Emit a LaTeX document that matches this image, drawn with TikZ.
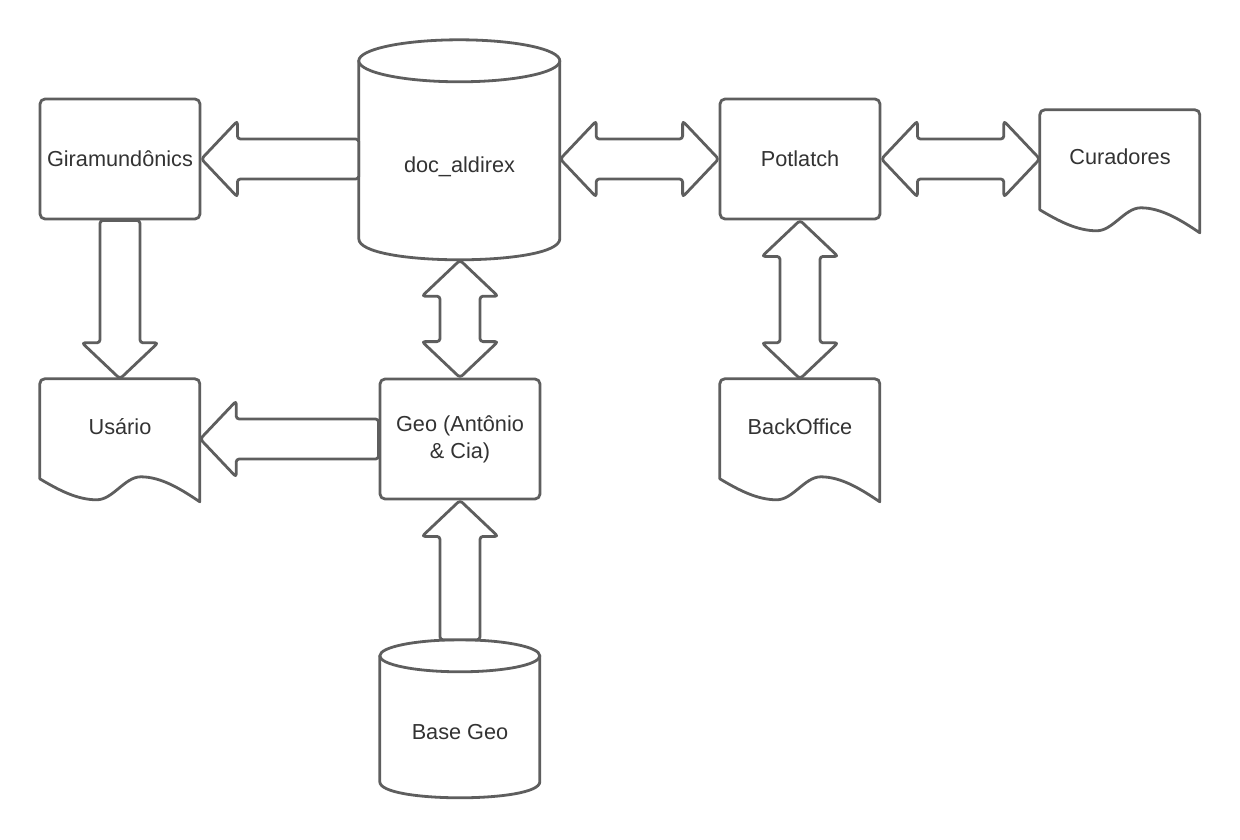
\documentclass[tikz,border=0pt]{standalone}
\usepackage{fontspec}
\setmainfont{Liberation Sans}
\usetikzlibrary{calc}

\definecolor{edge}{HTML}{5E5E5E}
\definecolor{ink}{HTML}{333333}

% outline of a document sheet with a wavy bottom edge, fitted to node #1 (160 x 123)
\newcommand\sheetoutline[1]{%
  \begin{scope}[shift={(#1.north west)}]
    \draw[line] (0,50) -- (0,5) .. controls (0,2) and (2,0) .. (5,0)
      -- (155,0) .. controls (158,0) and (160,2) .. (160,5)
      -- (160,123) .. controls (142,111) and (122,98) .. (101,98)
      .. controls (85,98) and (73,121) .. (57,121)
      .. controls (38,121) and (20,112) .. (0,100) -- cycle;
  \end{scope}}

% outline of a database drum fitted to node #1: width #2, height #3, cap radius #4
\newcommand\drumoutline[4]{%
  \begin{scope}[shift={(#1.north west)}]
    \draw[line] (0,#4) -- (0,{#3-#4})
      .. controls (0,{#3+#4/3}) and (#2,{#3+#4/3}) .. (#2,{#3-#4})
      -- (#2,#4) -- cycle;
    \draw[line] ({#2/2},#4) ellipse [x radius={#2/2}, y radius=#4];
  \end{scope}}

\begin{document}
\begin{tikzpicture}[x=1pt,y=-1pt,
  line/.style={draw=edge, line width=2.8pt, line join=round, fill=white},
  lbl/.style={font=\fontsize{21.7}{27}\selectfont, text=ink, align=center},
  proc/.style={line, lbl, rounded corners=5pt, minimum width=160pt,
    minimum height=120pt, inner sep=0pt},
  sheet/.style={minimum width=160pt, minimum height=123pt, inner sep=0pt},
  drum/.style={inner sep=0pt},
  blockarrow/.style={line, rounded corners=3pt, to path={
    ($(\tikztotarget)!36pt!(\tikztostart)$) coordinate (ah)
    ($(\tikztostart)!20pt!90:(\tikztotarget)$)
    -- ($(ah)!20pt!90:(\tikztotarget)$)
    -- ($(ah)!38pt!90:(\tikztotarget)$)
    -- (\tikztotarget)
    -- ($(ah)!38pt!-90:(\tikztotarget)$)
    -- ($(ah)!20pt!-90:(\tikztotarget)$)
    -- ($(\tikztostart)!20pt!-90:(\tikztotarget)$)
    -- cycle}},
  dblarrow/.style={line, rounded corners=3pt, to path={
    ($(\tikztostart)!36pt!(\tikztotarget)$) coordinate (ah1)
    ($(\tikztotarget)!36pt!(\tikztostart)$) coordinate (ah2)
    (\tikztostart)
    -- ($(ah1)!38pt!90:(\tikztotarget)$)
    -- ($(ah1)!20pt!90:(\tikztotarget)$)
    -- ($(ah2)!20pt!90:(\tikztotarget)$)
    -- ($(ah2)!38pt!90:(\tikztotarget)$)
    -- (\tikztotarget)
    -- ($(ah2)!38pt!-90:(\tikztotarget)$)
    -- ($(ah2)!20pt!-90:(\tikztotarget)$)
    -- ($(ah1)!20pt!-90:(\tikztotarget)$)
    -- ($(ah1)!38pt!-90:(\tikztotarget)$)
    -- cycle}}]

\useasboundingbox[fill=white] (0,0) rectangle (1240,840);

% process boxes
\node[proc] (gira) at (120,159) {Giramundônics};
\node[proc] (pot)  at (800,159) {Potlatch};
\node[proc] (geo)  at (460,439) {Geo (Antônio\\\& Cia)};

% databases
\node[drum, minimum width=201pt, minimum height=220pt] (doc) at (459.5,150) {};
\drumoutline{doc}{201}{220}{21}
\node[lbl] at ($(doc.north)+(0,127)$) {doc\_aldirex};

\node[drum, minimum width=160pt, minimum height=158pt] (bgeo) at (460,719) {};
\drumoutline{bgeo}{160}{158}{16}
\node[lbl] at ($(bgeo.north)+(0,92)$) {Base Geo};

% documents
\node[sheet] (usr) at (120,440.5) {};
\sheetoutline{usr}
\node[lbl] at ($(usr.north)+(0,48)$) {Usário};

\node[sheet] (bo) at (800,440.5) {};
\sheetoutline{bo}
\node[lbl] at ($(bo.north)+(0,48)$) {BackOffice};

\node[sheet] (cur) at (1120,171.5) {};
\sheetoutline{cur}
\node[lbl] at ($(cur.north)+(0,47)$) {Curadores};

% block arrows
\coordinate (docw) at (doc.west |- gira.east);
\draw[blockarrow] (docw) to (gira.east);
\coordinate (doce) at (doc.east |- pot.west);
\draw[dblarrow] (doce) to (pot.west);
\coordinate (curw) at (cur.west |- pot.east);
\draw[dblarrow] (pot.east) to (curw);
\draw[blockarrow] (gira.south) to (usr.north);
\coordinate (docs) at (geo.north |- doc.south);
\draw[dblarrow] (docs) to (geo.north);
\draw[dblarrow] (pot.south) to (bo.north);
\coordinate (usre) at (usr.east |- geo.west);
\draw[blockarrow] (geo.west) to (usre);
\draw[blockarrow] (bgeo.north) to (geo.south);

\end{tikzpicture}
\end{document}
